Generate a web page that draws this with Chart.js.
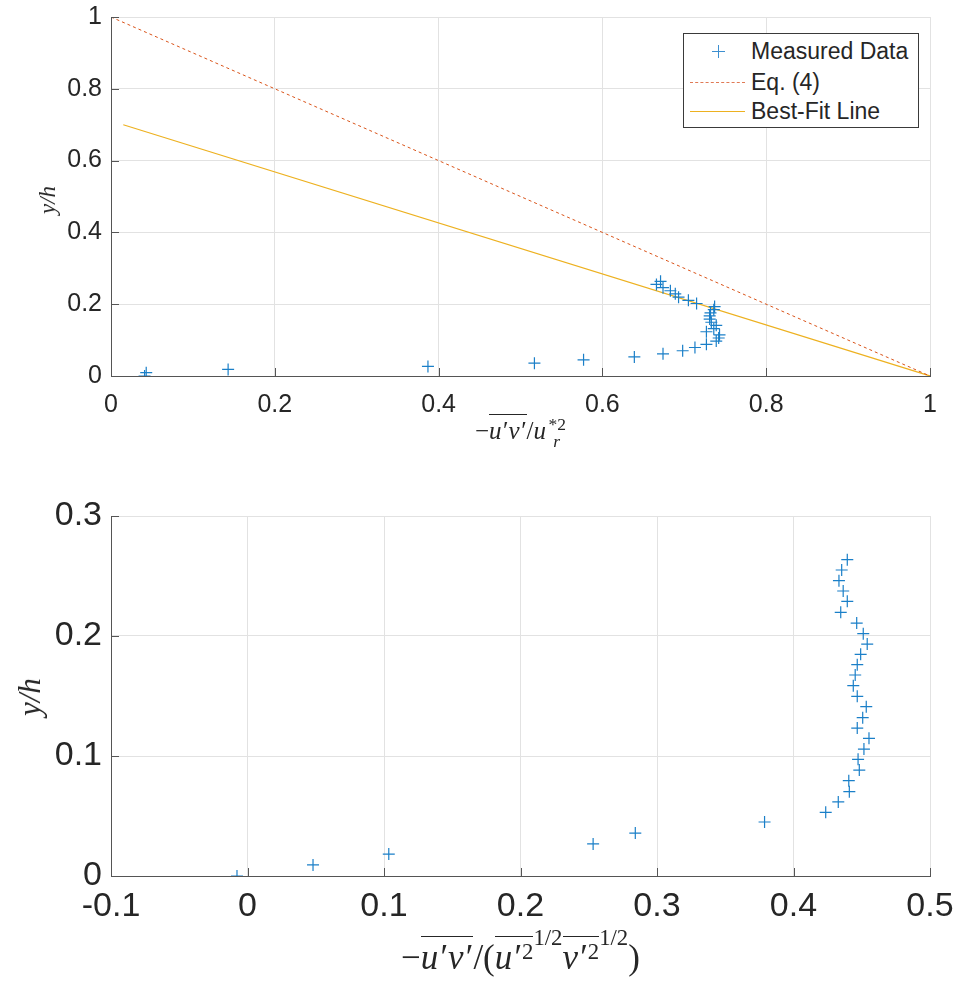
<!DOCTYPE html>
<html>
<head>
<meta charset="utf-8">
<script src="https://cdn.jsdelivr.net/npm/chart.js@4/dist/chart.umd.min.js"></script>
<style>
  body { margin: 0; background: #fff; }
  #page { position: relative; width: 958px; height: 985px; overflow: hidden; font-family: "Liberation Sans", Arial, sans-serif; color: #262626; }
  .box { position: absolute; left: 0; width: 958px; }
  .math { position: absolute; font-family: "Liberation Serif", "DejaVu Serif", serif; color: #262626; white-space: nowrap; line-height: 1; text-align: center; }
  .math i { font-style: italic; letter-spacing: 0.06em; }
  .ol { display: inline-block; border-top: 1px solid #262626; padding-top: 3px; line-height: 1; }
  .ss { display: inline-flex; flex-direction: column; vertical-align: middle; font-size: 0.7em; line-height: 1; margin-left: 1px; }
  .sq { font-size: 0.65em; vertical-align: 0.45em; }
  .half { font-size: 0.65em; vertical-align: 1.05em; }
  .ytitle { position: absolute; transform: translate(-50%, -50%) rotate(-90deg); font-family: "Liberation Serif", serif; font-style: italic; color: #262626; white-space: nowrap; }
  #legend { position: absolute; left: 683px; top: 33px; width: 234px; height: 93px; border: 1px solid #3a3a3a; background: #fff; font-size: 23px; }
  .row { position: absolute; left: 0; height: 26px; width: 100%; }
  .row span.t { position: absolute; left: 67px; top: 0; line-height: 26px; }
  .swatch { position: absolute; left: 6px; width: 55px; top: 13px; height: 0; }
  .plus { position: absolute; left: 28px; top: 7px; width: 13px; height: 13px; }
  .plus:before, .plus:after { content: ""; position: absolute; background: #3d8fd0; }
  .plus:before { left: 6px; top: 0; width: 1px; height: 13px; }
  .plus:after { left: 0; top: 6px; width: 13px; height: 1px; }
</style>
</head>
<body>
<div id="page">
  <div class="box" style="top:0;height:440px"><canvas id="topChart"></canvas></div>
  <div class="box" style="top:480px;height:505px"><canvas id="bottomChart"></canvas></div>

  <div class="ytitle" style="left:48px;top:200px;font-size:23px">y/h</div>
  <div class="ytitle" style="left:30px;top:697px;font-size:31px">y/h</div>

  <div class="math" id="xTitleTop" style="font-size:25px;top:414px;left:111px;width:819px">
    −<span class="ol"><i>u</i>′<i>v</i>′</span>/<i>u</i><span class="ss"><span>*2</span><i>r</i></span>
  </div>
  <div class="math" id="xTitleBottom" style="font-size:35px;top:927px;left:111px;width:819px">
    −<span class="ol"><i>u</i>′<i>v</i>′</span>/(<span class="ol"><i>u</i>′<span class="sq">2</span></span><span class="half">1/2</span><span class="ol"><i>v</i>′<span class="sq">2</span></span><span class="half">1/2</span>)
  </div>

  <div id="legend">
    <div class="row" style="top:4px"><div class="plus"></div><span class="t">Measured Data</span></div>
    <div class="row" style="top:35px"><div class="swatch" style="border-top:1.5px dashed #E07A55"></div><span class="t">Eq. (4)</span></div>
    <div class="row" style="top:64px"><div class="swatch" style="border-top:1.5px solid #EDB120"></div><span class="t">Best-Fit Line</span></div>
  </div>
</div>

<script>
// heights of the measuring points, y/h
const yPos = [0, 0.0092, 0.0183, 0.0267, 0.0358, 0.045, 0.0531, 0.0617, 0.0703, 0.0794,
  0.0883, 0.0972, 0.1058, 0.1147, 0.1233, 0.1319, 0.1411, 0.1497, 0.1586, 0.1675,
  0.1761, 0.1847, 0.1933, 0.2019, 0.2108, 0.2197, 0.2289, 0.2375, 0.2461, 0.2550, 0.2636];

// -u'v' / u*^2 (top panel)
const stressNorm = [0.041, 0.043, 0.143, 0.387, 0.517, 0.577, 0.639, 0.674, 0.698, 0.713,
  0.727, 0.739, 0.742, 0.743, 0.727, 0.736, 0.739, 0.733, 0.731, 0.731,
  0.732, 0.736, 0.737, 0.715, 0.705, 0.693, 0.689, 0.683, 0.674, 0.666, 0.671];

// correlation coefficient (bottom panel)
const corrCoef = [-0.0077, 0.048, 0.1035, 0.2532, 0.2841, 0.3788, 0.4236, 0.4328, 0.4409, 0.4405,
  0.4482, 0.4473, 0.4516, 0.4553, 0.4467, 0.4507, 0.4533, 0.4467, 0.4438, 0.4452,
  0.4467, 0.4492, 0.4540, 0.4511, 0.4463, 0.4346, 0.4394, 0.4364, 0.4333, 0.4353, 0.4394];

// Eq. (4) and best fit line end points
const eq4X = [0, 1];
const eq4Y = [1, 0];
const fitX = [0.015, 1];
const fitY = [0.70, 0];

const topTicksX = [0, 0.2, 0.4, 0.6, 0.8, 1];
const topTicksY = [0, 0.2, 0.4, 0.6, 0.8, 1];
const botTicksX = [-0.1, 0, 0.1, 0.2, 0.3, 0.4, 0.5];
const botTicksY = [0, 0.1, 0.2, 0.3];

const pts = (xs, ys) => xs.map((x, i) => ({ x: x, y: ys[i] }));
const fmt = v => String(+v.toFixed(2));

// MATLAB style tick marks pointing into the axes
const innerTicks = {
  id: 'innerTicks',
  afterDatasetsDraw(chart) {
    const { ctx, chartArea: a, scales: { x, y } } = chart;
    ctx.save();
    ctx.strokeStyle = '#555';
    ctx.lineWidth = 1;
    x.ticks.forEach(t => {
      const px = Math.round(x.getPixelForValue(t.value)) + 0.5;
      ctx.beginPath(); ctx.moveTo(px, a.bottom); ctx.lineTo(px, a.bottom - 8); ctx.stroke();
    });
    y.ticks.forEach(t => {
      const py = Math.round(y.getPixelForValue(t.value)) + 0.5;
      ctx.beginPath(); ctx.moveTo(a.left, py); ctx.lineTo(a.left + 8, py); ctx.stroke();
    });
    ctx.restore();
  }
};

function axes(xMin, xMax, xTicks, yMin, yMax, yTicks, fontSize, xHeight, xPad) {
  const grid = { color: '#e2e2e2', drawTicks: false };
  const border = { color: '#555', width: 1 };
  return {
    x: {
      type: 'linear', min: xMin, max: xMax,
      afterBuildTicks: s => { s.ticks = xTicks.map(v => ({ value: v })); },
      afterFit: s => { s.height = xHeight; s.paddingLeft = 0; s.paddingRight = 0; },
      grid: grid, border: border,
      ticks: { callback: fmt, color: '#262626', padding: xPad, maxRotation: 0,
        font: { family: 'Liberation Sans', size: fontSize } }
    },
    y: {
      type: 'linear', min: yMin, max: yMax,
      afterBuildTicks: s => { s.ticks = yTicks.map(v => ({ value: v })); },
      afterFit: s => { s.width = 111; s.paddingTop = 0; s.paddingBottom = 0; },
      grid: grid, border: border,
      ticks: { callback: fmt, color: '#262626', padding: 9,
        font: { family: 'Liberation Sans', size: fontSize } }
    }
  };
}

const markerStyle = {
  pointStyle: 'cross', pointRadius: 6, pointBorderWidth: 1.2,
  borderColor: '#1a7fc8', backgroundColor: '#1a7fc8', showLine: false
};

new Chart(document.getElementById('topChart'), {
  type: 'scatter',
  data: {
    datasets: [
      Object.assign({ label: 'Measured Data', data: pts(stressNorm, yPos) }, markerStyle),
      { label: 'Eq. (4)', data: pts(eq4X, eq4Y), showLine: true, pointRadius: 0,
        borderColor: '#D95319', borderWidth: 1, borderDash: [3, 3] },
      { label: 'Best-Fit Line', data: pts(fitX, fitY), showLine: true, pointRadius: 0,
        borderColor: '#EDB120', borderWidth: 1.2 }
    ]
  },
  options: {
    responsive: true, maintainAspectRatio: false, animation: false,
    layout: { padding: { top: 17, right: 28, left: 0, bottom: 0 } },
    plugins: { legend: { display: false }, tooltip: { enabled: false } },
    scales: axes(0, 1, topTicksX, 0, 1, topTicksY, 25, 64, 14)
  },
  plugins: [innerTicks]
});

new Chart(document.getElementById('bottomChart'), {
  type: 'scatter',
  data: {
    datasets: [
      Object.assign({ label: 'Measured Data', data: pts(corrCoef, yPos) }, markerStyle)
    ]
  },
  options: {
    responsive: true, maintainAspectRatio: false, animation: false,
    layout: { padding: { top: 36, right: 28, left: 0, bottom: 0 } },
    plugins: { legend: { display: false }, tooltip: { enabled: false } },
    scales: axes(-0.1, 0.5, botTicksX, 0, 0.3, botTicksY, 34, 109, 10)
  },
  plugins: [innerTicks]
});
</script>
</body>
</html>
